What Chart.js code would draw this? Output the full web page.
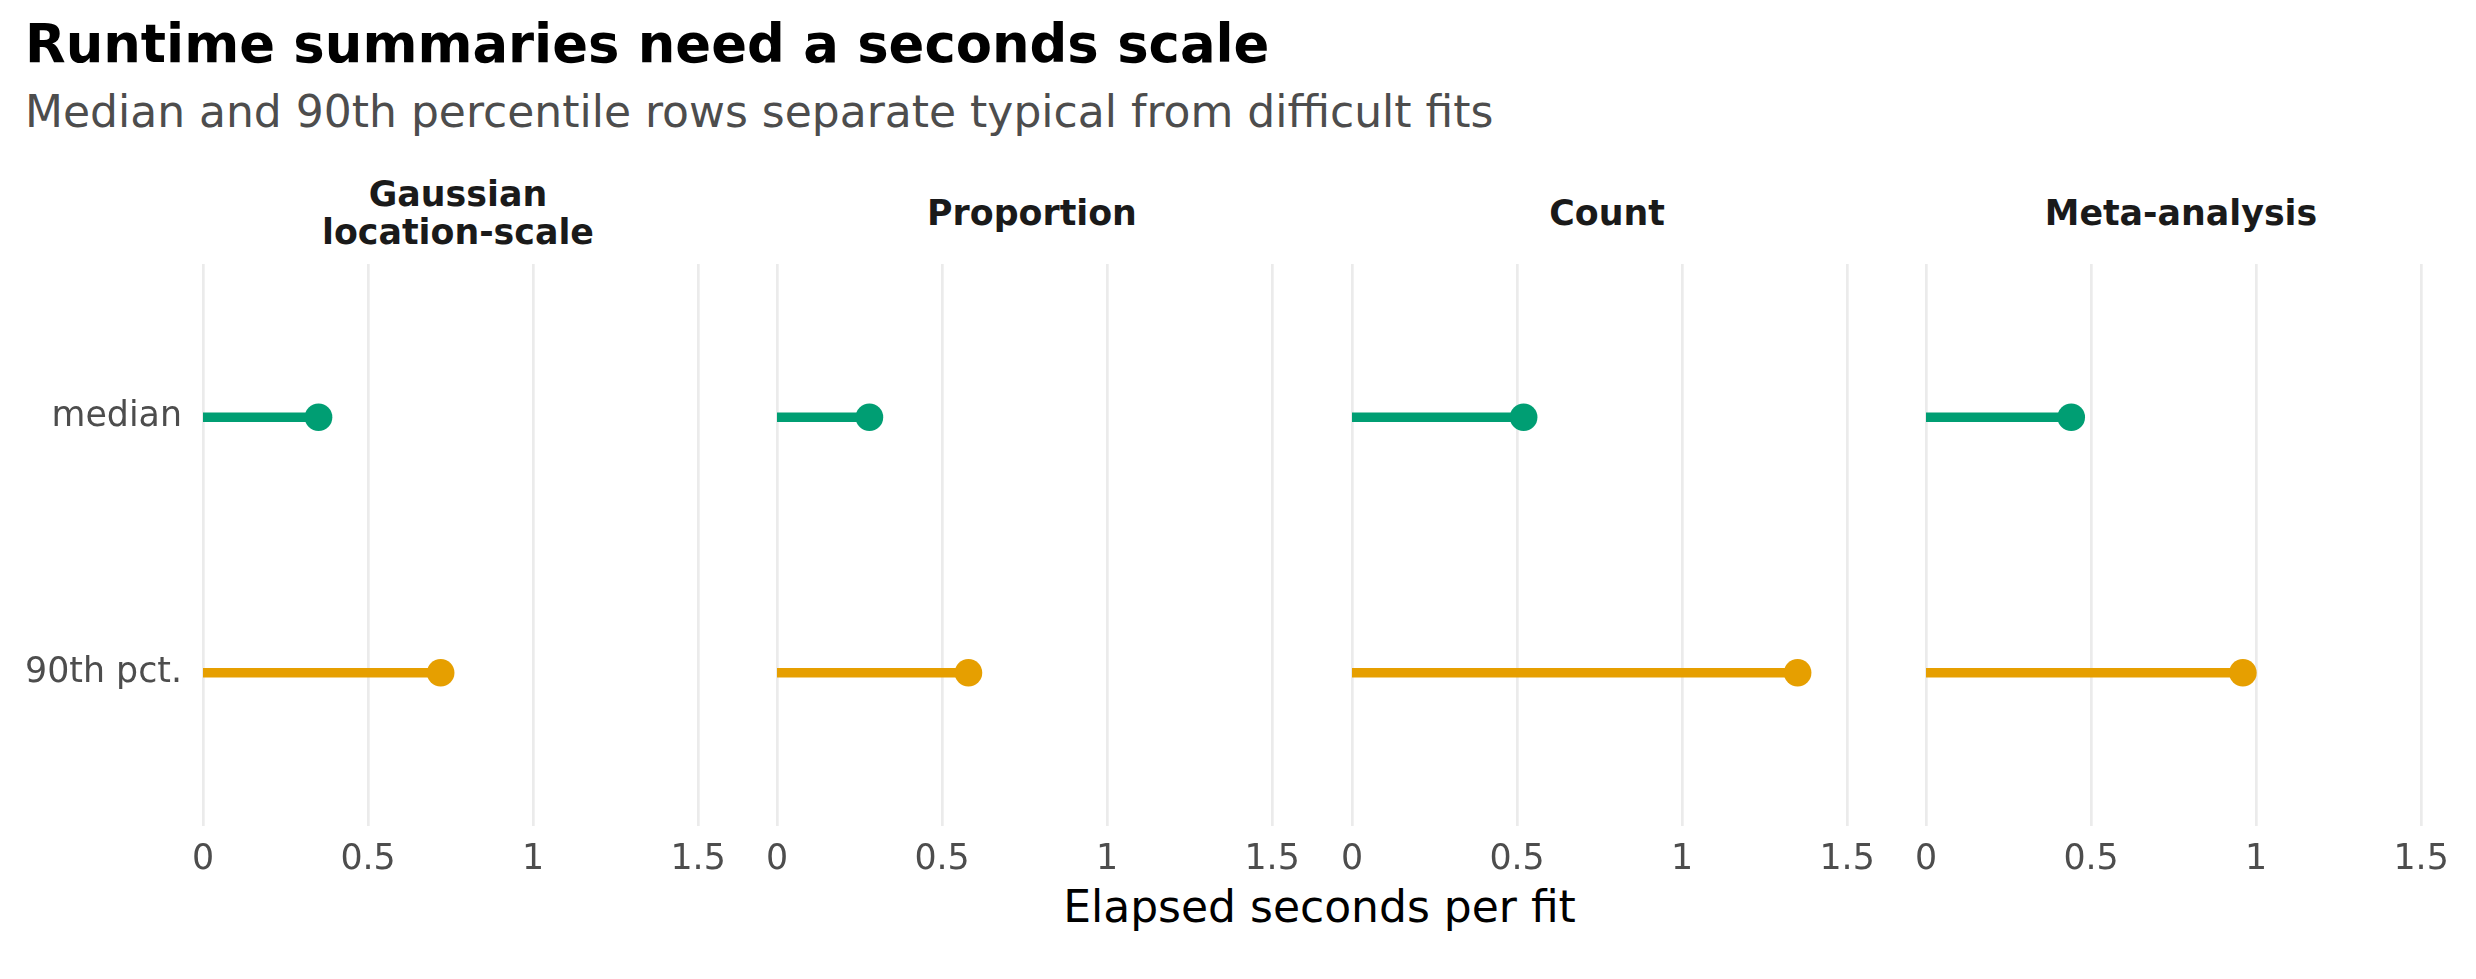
<!DOCTYPE html>
<html>
<head>
<meta charset="utf-8">
<script src="https://cdn.jsdelivr.net/npm/chart.js@4.4.1/dist/chart.umd.min.js"></script>
<style>
  html, body { margin: 0; padding: 0; background: #ffffff; }
  body { width: 2476px; height: 979px; position: relative; overflow: hidden; font-family: 'DejaVu Sans', sans-serif; }
  .abs { position: absolute; white-space: nowrap; }
  #title { left: 25px; top: 14px; font-size: 52.8px; line-height: 60px; font-weight: bold; color: #000000; }
  #subtitle { left: 25px; top: 87px; font-size: 44px; line-height: 50px; color: #4D4D4D; }
  .strip { position: absolute; top: 174px; height: 78px; display: flex; align-items: center; justify-content: center;
           text-align: center; white-space: pre-line; font-size: 34.8px; line-height: 38px; font-weight: bold; color: #1A1A1A; }
  #xtitle { top: 882px; text-align: center; font-size: 44px; line-height: 50px; color: #000000; }
  canvas { position: absolute; }
</style>
</head>
<body>
<div id="title" class="abs">Runtime summaries need a seconds scale</div>
<div id="subtitle" class="abs">Median and 90th percentile rows separate typical from difficult fits</div>
<div id="xtitle" class="abs">Elapsed seconds per fit</div>
<script>
// ---- data ----
const panelNames = ['Gaussian\nlocation-scale', 'Proportion', 'Count', 'Meta-analysis'];
const rowLabels = ['median', '90th pct.'];
const medianSeconds = [0.35, 0.28, 0.52, 0.44];
const p90Seconds = [0.72, 0.58, 1.35, 0.96];
const xTickValues = [0, 0.5, 1, 1.5];
const xTickLabels = ['0', '0.5', '1', '1.5'];
const xAxisTitle = 'Elapsed seconds per fit';

// ---- styling / layout ----
const rowColors = ['#009E73', '#E69F00'];
const xMin = 0, xMax = 1.545;
const yMin = -0.6, yMax = 1.6;
const panelLefts = [203, 777, 1352, 1926];
const panelWidth = 510;
const canvasTop = 214, canvasHeight = 686;
const padTop = 50, xAxisHeight = 74;
const sidePad = 40;

Chart.defaults.font.family = "'DejaVu Sans', sans-serif";

const xt = document.getElementById('xtitle');
xt.textContent = xAxisTitle;
xt.style.left = panelLefts[0] + 'px';
xt.style.width = (panelLefts[3] + panelWidth - panelLefts[0]) + 'px';

panelNames.forEach((name, p) => {
  const strip = document.createElement('div');
  strip.className = 'strip';
  strip.textContent = name;
  strip.style.left = panelLefts[p] + 'px';
  strip.style.width = panelWidth + 'px';
  document.body.appendChild(strip);

  const first = p === 0;
  const canvas = document.createElement('canvas');
  const cLeft = first ? 0 : panelLefts[p] - sidePad;
  const cWidth = first ? panelLefts[p] + panelWidth + sidePad : panelWidth + 2 * sidePad;
  canvas.width = cWidth; canvas.height = canvasHeight;
  canvas.style.left = cLeft + 'px'; canvas.style.top = canvasTop + 'px';
  canvas.style.width = cWidth + 'px'; canvas.style.height = canvasHeight + 'px';
  document.body.appendChild(canvas);

  const rowValues = [medianSeconds[p], p90Seconds[p]];
  const datasets = rowLabels.map((lab, r) => ({
    label: lab,
    data: [{ x: 0, y: r }, { x: rowValues[r], y: r }],
    borderColor: rowColors[r],
    backgroundColor: rowColors[r],
    pointBackgroundColor: rowColors[r],
    pointBorderWidth: 0,
    pointRadius: [0, 13.8],
    pointHoverRadius: [0, 13.8],
    borderWidth: 9.5,
    borderCapStyle: 'butt',
    showLine: true,
    fill: false,
    clip: false
  }));

  new Chart(canvas, {
    type: 'scatter',
    data: { datasets },
    options: {
      responsive: false,
      animation: false,
      devicePixelRatio: 1,
      events: [],
      layout: { padding: { top: padTop, bottom: 0, left: first ? 0 : sidePad, right: sidePad } },
      plugins: { legend: { display: false }, tooltip: { enabled: false }, title: { display: false } },
      scales: {
        x: {
          type: 'linear', position: 'bottom', min: xMin, max: xMax,
          afterBuildTicks: (s) => { s.ticks = xTickValues.map(v => ({ value: v })); },
          afterFit: (s) => { s.height = xAxisHeight; },
          ticks: {
            maxRotation: 0, autoSkip: false, padding: 13,
            color: '#4D4D4D', font: { size: 34.8 },
            callback: (v) => xTickLabels[xTickValues.indexOf(v)]
          },
          grid: { color: '#EBEBEB', lineWidth: 2.7, drawTicks: false },
          border: { display: false }
        },
        y: {
          type: 'linear', position: 'left', reverse: true, min: yMin, max: yMax,
          display: first,
          afterBuildTicks: (s) => { s.ticks = rowLabels.map((l, i) => ({ value: i })); },
          afterFit: (s) => { if (first) s.width = panelLefts[0]; },
          ticks: {
            padding: 21, color: '#4D4D4D', font: { size: 34.8 },
            callback: (v) => rowLabels[v]
          },
          grid: { display: false, drawTicks: false },
          border: { display: false }
        }
      }
    }
  });
});
</script>
</body>
</html>
